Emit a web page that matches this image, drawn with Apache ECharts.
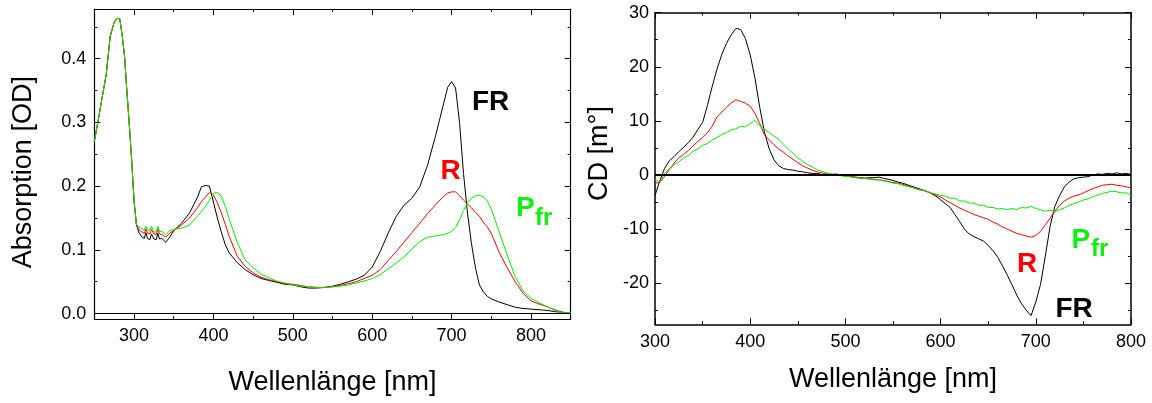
<!DOCTYPE html>
<html lang="de">
<head>
<meta charset="utf-8">
<title>Absorption / CD</title>
<script src="https://cdn.jsdelivr.net/npm/echarts@6/dist/echarts.min.js"></script>
<style>
  html, body { margin: 0; padding: 0; background: #fff; }
  #chart { width: 1152px; height: 403px; }
</style>
</head>
<body>
<div id="chart"></div>
<script>
// --- Absorptionsspektren (links) ---
var absNm = [250,255,260,265,270,275,278,282,285,288, 291,294,297,300,303,306,310,313,315,317,
             320,322,325,328,330,332,335,340,345,350, 360,370,380,385,390,395,400,405,410,415,
             420,430,440,450,460,470,480,490,500,510, 520,530,540,550,560,570,580,590,600,610,
             620,630,640,650,660,670,680,690,695,700, 705,710,715,720,725,730,735,740,745,750,
             760,770,780,790,800,810,820,830,840,850];
var absFR  = [.270,.304,.340,.375,.435,.457,.463,.463,.438,.405, .350,.298,.242,.178,.140,.128,.120,.118,.127,.118,
              .116,.125,.117,.116,.126,.117,.118,.112,.120,.130, .142,.158,.183,.199,.201,.200,.175,.150,.128,.108,
              .095,.080,.069,.061,.055,.052,.049,.046,.045,.042, .040,.040,.041,.043,.046,.050,.054,.060,.073,.097,
              .126,.152,.170,.181,.199,.234,.280,.330,.355,.364, .354,.300,.220,.158,.110,.072,.045,.034,.027,.023,
              .018,.014,.010,.008,.007,.006,.005,.003,.002,.001];
var absR   = [.270,.304,.340,.375,.435,.457,.463,.463,.438,.405, .350,.298,.242,.178,.140,.132,.128,.126,.133,.126,
              .125,.132,.125,.124,.133,.125,.124,.120,.126,.130, .139,.150,.166,.176,.183,.190,.186,.174,.158,.140,
              .121,.090,.074,.064,.057,.053,.050,.047,.046,.044, .042,.041,.041,.042,.044,.047,.050,.055,.060,.069,
              .083,.097,.112,.127,.142,.157,.171,.184,.189,.191, .191,.185,.178,.172,.166,.159,.153,.143,.136,.126,
              .096,.072,.050,.032,.020,.015,.011,.006,.002,.001];
var absPfr = [.270,.304,.340,.375,.435,.457,.463,.463,.438,.405, .350,.298,.242,.178,.140,.136,.133,.131,.137,.131,
              .131,.137,.128,.128,.137,.129,.129,.124,.130,.132, .134,.139,.153,.160,.168,.178,.189,.190,.184,.168,
              .148,.112,.084,.072,.062,.056,.051,.048,.045,.043, .042,.041,.041,.042,.043,.045,.048,.051,.055,.061,
              .070,.079,.089,.101,.113,.120,.122,.124,.126,.129, .135,.147,.162,.173,.181,.185,.186,.183,.177,.164,
              .128,.092,.058,.036,.024,.017,.011,.005,.001,.002];

// --- CD-Spektren (rechts) ---
var cdNm = [300,305,310,315,320,325,330,335,340,345, 350,355,360,365,370,375,380,385,390,395,
            400,405,410,415,420,425,430,435,440,445, 450,455,460,465,470,475,480,485,490,495,
            500,505,510,515,520,525,530,535,540,545, 550,555,560,565,570,575,580,585,590,595,
            600,605,610,615,620,625,630,635,640,645, 650,655,660,665,670,675,680,685,690,695,
            700,705,710,715,720,725,730,735,740,745, 750,755,760,765,770,775,780,785,790,795,
            800];
var cdFR  = [-3.8,-1.1,1.2,2.6,3.4,4.3,5.1,6.0,7.0,8.4, 9.7,12.8,16.3,19.5,22.2,24.3,25.9,27.1,26.9,25.2,
             22.2,17.9,12.5,7.9,4.8,2.8,1.7,1.2,1.0,0.9, 0.7,0.6,0.4,0.3,0.3,0.1,0.1,0.0,0.2,0.0,
             -0.1,-0.3,-0.4,-0.5,-0.6,-0.5,-0.5,-0.4,-0.6,-0.8, -1.0,-1.3,-1.5,-1.8,-2.1,-2.4,-2.7,-3.0,-3.4,-3.9,
             -4.6,-5.3,-6.0,-7.3,-8.6,-10.0,-10.9,-11.4,-11.8,-12.2, -13.0,-14.0,-15.2,-16.8,-18.5,-20.3,-22.2,-23.8,-25.0,-26.0,
             -23.5,-20.2,-15.0,-9.5,-5.8,-3.8,-2.2,-1.3,-0.7,-0.5, -0.4,-0.3,0.0,0.2,0.1,0.3,0.2,0.4,0.2,0.3,
             0.1];
var cdR   = [-1.5,-1.4,-0.3,1.0,2.2,3.1,3.8,4.5,5.4,6.2, 6.9,7.8,9.0,10.7,11.6,12.5,13.3,13.9,13.6,13.3,
             12.7,11.4,9.5,7.4,6.5,5.6,4.8,4.2,3.5,2.9, 2.3,1.7,1.3,0.9,0.6,0.4,0.3,0.1,0.0,-0.1,
             -0.2,-0.3,-0.4,-0.5,-0.6,-0.7,-0.8,-0.9,-1.0,-1.2, -1.4,-1.5,-1.7,-2.0,-2.3,-2.6,-2.8,-3.0,-3.4,-3.7,
             -4.1,-4.6,-5.1,-5.6,-6.1,-6.5,-6.9,-7.3,-7.6,-7.9, -8.2,-8.7,-9.1,-9.6,-10.0,-10.4,-10.8,-11.0,-11.3,-11.5,
             -11.2,-10.4,-9.2,-8.0,-6.7,-5.6,-4.8,-4.3,-3.9,-3.7, -3.3,-2.9,-2.5,-2.2,-1.9,-1.8,-1.7,-1.9,-2.0,-2.2,
             -2.4];
var cdPfr = [-0.8,-1.3,0.3,1.1,1.9,2.4,3.2,3.6,4.4,4.8, 5.5,5.8,6.5,6.9,7.5,7.8,8.4,8.5,9.0,8.9,
             9.5,10.1,9.1,8.5,7.8,7.2,6.6,5.7,4.8,4.0, 3.1,2.6,1.9,1.5,1.0,0.7,0.4,0.2,0.1,-0.1,
             -0.3,-0.3,-0.5,-0.6,-0.6,-0.8,-0.9,-0.9,-1.1,-1.3, -1.5,-1.6,-1.9,-2.1,-2.3,-2.6,-2.8,-3.0,-3.3,-3.5,
             -3.8,-3.9,-4.3,-4.3,-4.8,-4.8,-5.2,-5.2,-5.6,-5.6, -6.0,-6.0,-6.3,-6.2,-6.4,-6.2,-6.4,-6.0,-6.1,-5.8,
             -6.2,-6.4,-6.7,-6.5,-6.8,-6.4,-6.1,-5.6,-5.3,-5.0, -4.6,-4.4,-4.0,-3.7,-3.4,-3.2,-3.0,-3.1,-3.3,-3.3,
             -3.7];

// Achsenteilung
var absXMajor = [300, 400, 500, 600, 700, 800];
var absXMinor = [350, 450, 550, 650, 750];
var absYMajor = [0, 0.1, 0.2, 0.3, 0.4];
var absYMinor = [0.05, 0.15, 0.25, 0.35, 0.45];
var cdXMajor = [300, 400, 500, 600, 700, 800];
var cdXMinor = [350, 450, 550, 650, 750];
var cdYMajor = [-20, -10, 0, 10, 20, 30];
var cdYMinor = [-25, -15, -5, 5, 15, 25];

var FONT = '"Liberation Sans", Arial, sans-serif';
var GREEN = '#00ee00';

function pairs(xs, ys) {
    return xs.map(function (x, i) { return [x, ys[i]]; });
}

// eine Achse nur mit Innenstrichen (für Rahmen oben/rechts und Nebenstriche)
function tickAxis(g, min, max, pos, values, len, showLine, lw) {
    return {
        type: 'value', gridIndex: g, min: min, max: max, position: pos,
        axisLine: { show: showLine, onZero: false, lineStyle: { color: '#000', width: lw } },
        axisTick: { show: true, inside: true, length: len, customValues: values,
                    lineStyle: { color: '#000', width: 1 } },
        axisLabel: { show: false },
        splitLine: { show: false }
    };
}

function mainAxis(g, min, max, pos, major, lw, label, name) {
    var a = tickAxis(g, min, max, pos, major, 6, true, lw);
    a.axisLabel = {
        show: true, customValues: major, color: '#000', fontFamily: FONT, fontSize: 18,
        margin: label.margin, formatter: label.fmt
    };
    a.name = name.text;
    a.nameLocation = 'middle';
    a.nameGap = name.gap;
    a.nameTextStyle = { color: '#000', fontFamily: FONT, fontSize: 27, padding: name.pad || 0 };
    return a;
}

var fmt1 = function (v) { return v.toFixed(1); };
var fmt0 = function (v) { return String(Math.round(v)); };

var xAxes = [
    mainAxis(0, 250, 850, 'bottom', absXMajor, 1.2, { margin: 8, fmt: fmt0 }, { text: 'Wellenlänge [nm]', gap: 50 }),
    tickAxis(0, 250, 850, 'bottom', absXMinor, 3, false, 1),
    tickAxis(0, 250, 850, 'top', absXMajor, 6, true, 1.2),
    tickAxis(0, 250, 850, 'top', absXMinor, 3, false, 1),
    mainAxis(1, 300, 800, 'bottom', cdXMajor, 1.5, { margin: 9, fmt: fmt0 }, { text: 'Wellenlänge [nm]', gap: 42 }),
    tickAxis(1, 300, 800, 'bottom', cdXMinor, 3, false, 1),
    tickAxis(1, 300, 800, 'top', cdXMajor, 6, true, 1.5),
    tickAxis(1, 300, 800, 'top', cdXMinor, 3, false, 1)
];
var yAxes = [
    mainAxis(0, -0.009, 0.478, 'left', absYMajor, 1.2, { margin: 8, fmt: fmt1 }, { text: 'Absorption [OD]', gap: 57, pad: [0, 16, 0, 0] }),
    tickAxis(0, -0.009, 0.478, 'left', absYMinor, 3, false, 1),
    tickAxis(0, -0.009, 0.478, 'right', absYMajor, 6, true, 1.2),
    tickAxis(0, -0.009, 0.478, 'right', absYMinor, 3, false, 1),
    mainAxis(1, -27.6, 30, 'left', cdYMajor, 1.5, { margin: 6, fmt: fmt0 }, { text: 'CD [m°]', gap: 42, pad: [0, 0, 0, 30] }),
    tickAxis(1, -27.6, 30, 'left', cdYMinor, 3, false, 1),
    tickAxis(1, -27.6, 30, 'right', cdYMajor, 6, true, 1.5),
    tickAxis(1, -27.6, 30, 'right', cdYMinor, 3, false, 1)
];

function line(name, data, color, xi, yi, zeroWidth) {
    var s = {
        name: name, type: 'line', data: data, xAxisIndex: xi, yAxisIndex: yi,
        showSymbol: false, symbol: 'none', smooth: false,
        lineStyle: { color: color, width: 1 }, silent: true
    };
    if (zeroWidth) {
        s.markLine = {
            silent: true, symbol: ['none', 'none'], label: { show: false },
            lineStyle: { color: '#000', type: 'solid', width: zeroWidth },
            data: [{ yAxis: 0 }]
        };
    }
    return s;
}

var chart = echarts.init(document.getElementById('chart'), null, { renderer: 'canvas' });

var labelFont = 'bold 28px ' + FONT;
var subFont = 'bold 24px ' + FONT;
function tag(text, x, y, color, font) {
    return { type: 'text', x: x, y: y, silent: true,
             style: { text: text, font: font, fill: color, textAlign: 'left', textVerticalAlign: 'middle' } };
}

chart.setOption({
    animation: false,
    backgroundColor: '#fff',
    grid: [
        { left: 94.3, top: 9, width: 476.4, height: 310.3, containLabel: false, outerBoundsMode: 'none' },
        { left: 655, top: 12.7, width: 476, height: 311.6, containLabel: false, outerBoundsMode: 'none' }
    ],
    xAxis: xAxes,
    yAxis: yAxes,
    series: [
        line('FR', pairs(absNm, absFR), '#000', 0, 0, 1.2),
        line('R', pairs(absNm, absR), '#ff0000', 0, 0),
        line('Pfr', pairs(absNm, absPfr), GREEN, 0, 0),
        line('FR', pairs(cdNm, cdFR), '#000', 4, 4, 2),
        line('R', pairs(cdNm, cdR), '#ff0000', 4, 4),
        line('Pfr', pairs(cdNm, cdPfr), GREEN, 4, 4)
    ],
    graphic: [
        tag('FR', 472, 102.5, '#000', labelFont),
        tag('R', 440.5, 171, '#ff0000', labelFont),
        tag('P', 516, 208, '#11ee11', labelFont),
        tag('fr', 535, 218.5, '#11ee11', subFont),
        tag('FR', 1055.5, 309.5, '#000', labelFont),
        tag('R', 1017, 264, '#ff0000', labelFont),
        tag('P', 1071.5, 240, '#11ee11', labelFont),
        tag('fr', 1091, 249.5, '#11ee11', subFont)
    ]
});
</script>
</body>
</html>
